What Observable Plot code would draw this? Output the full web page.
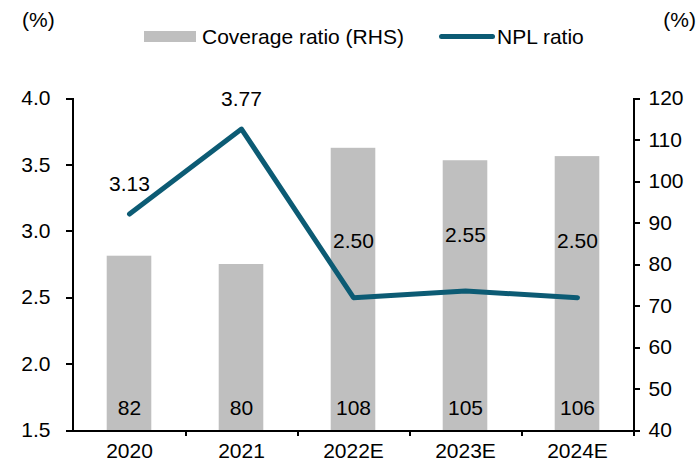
<!DOCTYPE html>
<html><head><meta charset="utf-8">
<script src="https://cdn.jsdelivr.net/npm/d3@7"></script>
<script src="https://cdn.jsdelivr.net/npm/@observablehq/plot@0.6"></script>
<style>
body{margin:0;background:#fff;font-family:"Liberation Sans",Arial,sans-serif;}
#wrap{position:relative;width:697px;height:468px;overflow:hidden;}
.lg{position:absolute;font-size:21px;line-height:21px;color:#000;white-space:nowrap;}
</style></head><body>
<div id="wrap"></div>
<script>
const years = ["2020","2021","2022E","2023E","2024E"];
const coverage = [82,80,108,105,106];
const npl = [3.13,3.77,2.50,2.55,2.50];
const lhsTicks = [1.5,2.0,2.5,3.0,3.5,4.0];
const rhsTicks = [40,50,60,70,80,90,100,110,120];
const seriesNames = ["Coverage ratio (RHS)","NPL ratio"];
const unitLabel = "(%)";

const L0=1.5,L1=4.0,R0=40,R1=120;
const toL = v => L0 + (v-R0)/(R1-R0)*(L1-L0);
const data = years.map((y,i)=>({year:y, cov:coverage[i], covL:toL(coverage[i]), npl:npl[i], i}));
const W=697,H=468,mL=72,mR=63,mT=98,mB=38;
const band=(W-mL-mR)/years.length;
const barW=45;
const ink = (H-mT-mB);
const tickLen = 6/ink*(L1-L0);
const lineColor="#0c5b74", barColor="#bfbfbf";
const font='"Liberation Sans",Arial,sans-serif';
const fs=21;

const chart = Plot.plot({
  width:W,height:H,marginLeft:mL,marginRight:mR,marginTop:mT,marginBottom:mB,
  style:{fontFamily:font,fontSize:fs+"px",color:"#000",background:"#fff",overflow:"visible"},
  x:{type:"band",domain:years,padding:0},
  y:{domain:[L0,L1]},
  marks:[
    Plot.barY(data,{x:"year",y1:L0,y2:"covL",fill:barColor,insetLeft:(band-barW)/2,insetRight:(band-barW)/2}),
    Plot.text(data,{x:"year",y:L0,text:d=>String(d.cov),dy:-22,fontSize:fs,fill:"#000"}),
    Plot.line(data,{x:"year",y:"npl",stroke:lineColor,strokeWidth:5}),
    Plot.text(data.filter(d=>d.i<2),{x:"year",y:"npl",text:d=>d.npl.toFixed(2),dy:-30,fontSize:fs,fill:"#000"}),
    Plot.text(data.filter(d=>d.i>=2),{x:"year",y:"npl",text:d=>d.npl.toFixed(2),dy:-56,fontSize:fs,fill:"#000"}),
    Plot.ruleY([L0],{stroke:"#000",strokeWidth:2,shapeRendering:"crispEdges"}),
    Plot.ruleX(years,{x:d=>d,dx:band/2,y1:L0-tickLen,y2:L0,stroke:"#000",strokeWidth:2,shapeRendering:"crispEdges"}),
    Plot.ruleX([years[0]],{x:d=>d,dx:-band/2,y1:L0-tickLen*0.3,y2:L1,stroke:"#000",strokeWidth:2,shapeRendering:"crispEdges"}),
    Plot.ruleX([years[years.length-1]],{x:d=>d,dx:band/2,y1:L0-tickLen,y2:L1,stroke:"#000",strokeWidth:2,shapeRendering:"crispEdges"}),
    Plot.axisY(lhsTicks,{anchor:"left",tickSize:6,tickPadding:16,stroke:"#000",strokeWidth:2,shapeRendering:"crispEdges",tickFormat:d=>d.toFixed(1),fontSize:fs,label:null}),
    Plot.axisY(rhsTicks.map(toL),{anchor:"right",tickSize:5,tickPadding:9,stroke:"#000",strokeWidth:2,shapeRendering:"crispEdges",tickFormat:d=>String(Math.round(R0+(d-L0)/(L1-L0)*(R1-R0))),fontSize:fs,label:null}),
    Plot.axisX({tickSize:0,tickPadding:13,fontSize:fs,label:null})
  ]
});
const wrap=document.getElementById("wrap");
wrap.appendChild(chart);

function addDiv(text,style){const d=document.createElement("div");d.className="lg";d.textContent=text;Object.assign(d.style,style);wrap.appendChild(d);return d;}
addDiv(unitLabel,{left:"22px",top:"9px"});
addDiv(unitLabel,{right:"1px",top:"9px"});
const sw1=document.createElement("div");Object.assign(sw1.style,{position:"absolute",left:"144px",top:"31px",width:"52px",height:"11px",background:barColor});wrap.appendChild(sw1);
addDiv(seriesNames[0],{left:"202px",top:"26px"});
const sw2=document.createElement("div");Object.assign(sw2.style,{position:"absolute",left:"439px",top:"34px",width:"56px",height:"5px",background:lineColor,borderRadius:"2.5px"});wrap.appendChild(sw2);
addDiv(seriesNames[1],{left:"497px",top:"26px"});
</script>
</body></html>
